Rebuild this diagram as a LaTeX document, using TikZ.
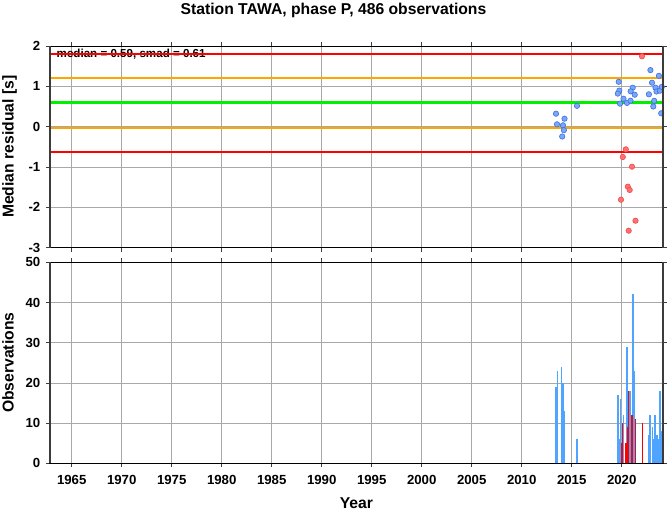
\documentclass[tikz,border=0pt]{standalone}
\usepackage{fontspec}
\setmainfont{Liberation Sans}
\definecolor{gridc}{HTML}{A8A8A8}
\definecolor{axc}{HTML}{3C3C3C}
\definecolor{medred}{HTML}{FF0000}
\definecolor{medorange}{HTML}{FFA500}
\definecolor{medgreen}{HTML}{00F000}
\definecolor{dotblue}{HTML}{7AA8F6}
\definecolor{dotblueedge}{HTML}{3C6EE6}
\definecolor{dotred}{HTML}{FF7070}
\definecolor{dotrededge}{HTML}{F04A4A}
\definecolor{barblue}{HTML}{4EA4FF}
\definecolor{barred}{HTML}{FF0000}
\tikzset{
  gridline/.style={gridc, line width=0.6pt},
  tickline/.style={axc, line width=0.8pt},
  thinframe/.style={black, line width=0.9pt},
  thickframe/.style={axc, line width=2pt},
  ticklabel/.style={inner sep=0pt, font=\fontsize{13.2}{14}\selectfont\bfseries},
  axlabel/.style={inner sep=0pt, font=\fontsize{15.7}{18}\selectfont\bfseries},
  bdot/.style={circle, fill=dotblue, draw=dotblueedge, line width=0.6pt, minimum size=5.4pt, inner sep=0pt},
  rdot/.style={circle, fill=dotred, draw=dotrededge, line width=0.6pt, minimum size=5.4pt, inner sep=0pt},
  bbar/.style={barblue, line width=1.6pt},
  rbar/.style={barred, line width=1.3pt}
}
\begin{document}
\begin{tikzpicture}[x=1pt,y=-1pt]
\useasboundingbox (0,0) rectangle (669,511);
\fill[white] (0,0) rectangle (669,511);

% ---------------- grids
\foreach \k in {0,...,11} {
  \draw[gridline] ({71.7+50*\k},46.1) -- ({71.7+50*\k},247.6);
  \draw[gridline] ({71.7+50*\k},262.3) -- ({71.7+50*\k},463.3);
}
\foreach \v in {-2,-1,0,1} {
  \draw[gridline] (50,{126.7-40.3*\v}) -- (662.7,{126.7-40.3*\v});
}
\foreach \v in {10,20,30,40} {
  \draw[gridline] (50,{463.3-4.02*\v}) -- (662.7,{463.3-4.02*\v});
}

% ---------------- ticks
\foreach \k in {0,...,11} {
  \draw[tickline] ({71.7+50*\k},46.1) -- ({71.7+50*\k},42.1);
  \draw[tickline] ({71.7+50*\k},247.6) -- ({71.7+50*\k},251.6);
  \draw[tickline] ({71.7+50*\k},262.3) -- ({71.7+50*\k},258.3);
  \draw[tickline] ({71.7+50*\k},463.3) -- ({71.7+50*\k},467.3);
}
\foreach \v in {-3,...,2} {
  \draw[tickline] (50,{126.7-40.3*\v}) -- (46,{126.7-40.3*\v});
  \draw[tickline] (662.7,{126.7-40.3*\v}) -- (666.7,{126.7-40.3*\v});
}
\foreach \v in {0,10,...,50} {
  \draw[tickline] (50,{463.3-4.02*\v}) -- (46,{463.3-4.02*\v});
  \draw[tickline] (662.7,{463.3-4.02*\v}) -- (666.7,{463.3-4.02*\v});
}

% ---------------- statistics text and lines
\node[inner sep=0pt, anchor=base west, font=\fontsize{11.6}{13}\selectfont\bfseries] (stats) at (56.5,57.6) {median = 0.59, smad = 0.61};
\draw[medorange, line width=2pt] (50,78.3) -- (662.7,78.3);
\draw[medorange, line width=2pt] (50,127.5) -- (662.7,127.5);
\draw[medgreen, line width=3pt] (50,102.9) -- (662.7,102.9);
\draw[medred, line width=2pt] (50,53.8) -- (662.7,53.8);
\draw[medred, line width=2pt] (50,152.4) -- (662.7,152.4);

% ---------------- residual dots
\foreach \px/\py [count=\i] in {556/113.7, 564.5/118.7, 557/124.3, 563/125.3, 563.9/130.2, 562.2/136.5,
  577/105.8, 618.7/81.8, 619.3/90.6, 617.8/93.6, 632.7/87.7, 630.6/91.3, 634.7/94.7,
  623.5/98.7, 620/103.6, 627/102.9, 630.5/100.7, 650.4/70.1, 658.9/75.8, 652/82.7,
  655.5/87.7, 656.5/91.5, 659.9/90.7, 661.8/86.9, 648.9/94.3, 654.2/100.8, 653.3/106.5, 661.2/113.3} {
  \node[bdot] (b\i) at (\px,\py) {};
}
\foreach \px/\py [count=\i] in {642/56.3, 625.8/149.3, 622.8/157, 632/166.7, 627.8/186.7, 629.7/190,
  621/199.7, 635.5/220.7, 628.7/230.7} {
  \node[rdot] (r\i) at (\px,\py) {};
}

% ---------------- observation bars
\foreach \px/\n in {556/19, 557.6/23, 561.3/24, 562.9/20, 564.4/13, 577/6,
  617.7/17, 619/6, 620.3/16, 623.5/12, 627/29, 630/18, 632.9/42, 634.4/23,
  648.3/7, 650/12, 652.3/9, 653.4/6, 655/12, 656.7/7, 658.6/6, 659.8/18, 661.4/8} {
  \draw[bbar] (\px,463.3) -- (\px,{463.3-4.02*\n});
}
\foreach \px/\n in {621.2/5, 622.4/10, 626/5, 627.2/9, 628.5/18, 632/12, 635.7/11, 642.3/10} {
  \draw[rbar] (\px,463.3) -- (\px,{463.3-4.02*\n});
}

% ---------------- frames
\draw[thinframe] (50,46.1) -- (662.7,46.1);
\draw[thinframe] (50,247.6) -- (662.7,247.6);
\draw[thickframe] (50,45.6) -- (50,248.1);
\draw[thickframe] (662.7,45.6) -- (662.7,248.1);
\draw[thinframe] (50,262.3) -- (662.7,262.3);
\draw[black, line width=1.6pt] (49,463.3) -- (663.7,463.3);
\draw[thickframe] (50,261.8) -- (50,463.3);
\draw[thickframe] (662.7,261.8) -- (662.7,463.3);

% ---------------- tick labels
\foreach \v in {-3,...,2} {
  \node[ticklabel, anchor=east] (yl\v) at (40.5,{126.7-40.3*\v}) {\v};
}
\foreach \v in {0,10,...,50} {
  \node[ticklabel, anchor=east] (ol\v) at (40.5,{463.3-4.02*\v}) {\v};
}
\foreach \k in {0,...,11} {
  \pgfmathtruncatemacro{\yr}{1965+5*\k}
  \node[ticklabel, anchor=base] (xl\k) at ({71.7+50*\k},484) {\yr};
}

% ---------------- titles
\node[axlabel, anchor=base] (title) at (333.5,14.2) {Station TAWA, phase P, 486 observations};
\node[axlabel, anchor=base] (xlab) at (356.4,508.5) {Year};
\node[axlabel, anchor=base, rotate=90] (ylab1) at (13.5,146.8) {Median residual [s]};
\node[axlabel, anchor=base, rotate=90] (ylab2) at (13.5,362.8) {Observations};
\end{tikzpicture}
\end{document}
